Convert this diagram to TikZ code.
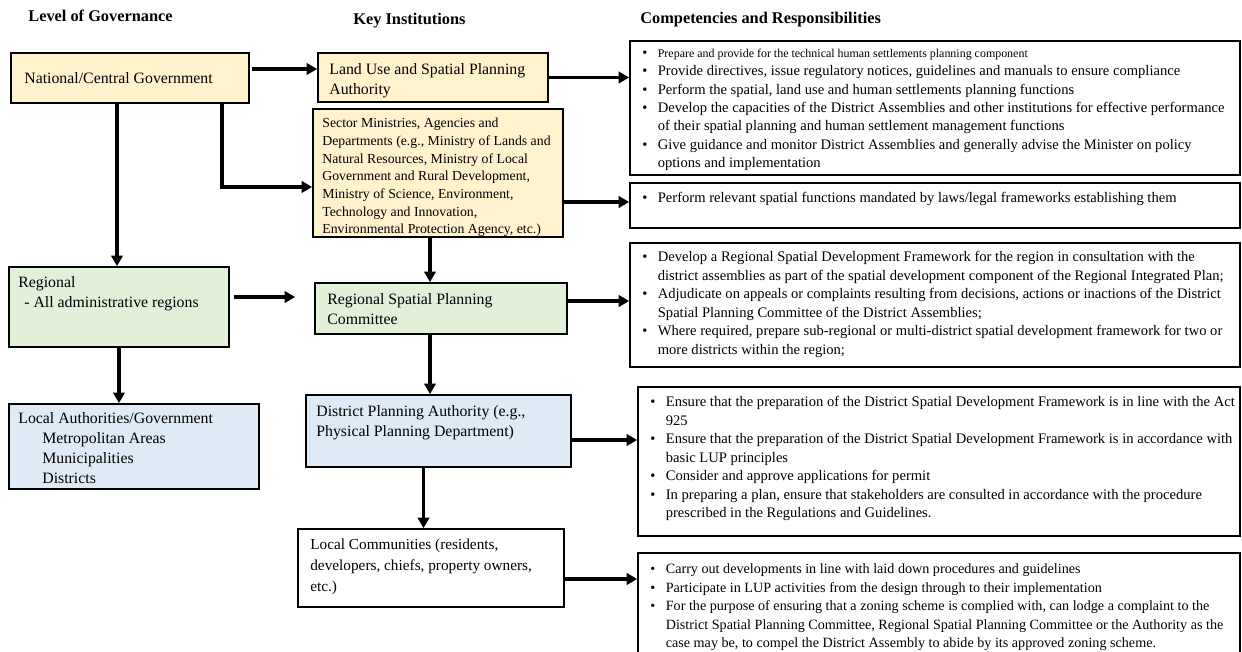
\documentclass[tikz,border=0pt]{standalone}
\usepackage{fontspec}
\setmainfont{Liberation Serif}
\usetikzlibrary{arrows.meta}
\definecolor{natfill}{HTML}{FFF2CC}
\definecolor{regfill}{HTML}{E2EFD9}
\definecolor{locfill}{HTML}{DEEBF7}
\tikzset{
  govbox/.style={
    draw,
    line width=1pt,
    inner sep=0pt
  },
  boxtext/.style={
    anchor=north west,
    inner sep=0pt,
    align=left,
    font=\fontsize{9}{11.4}\selectfont
  },
  smalltext/.style={
    boxtext,
    font=\fontsize{7.85}{10.1}\selectfont
  },
  resptext/.style={
    boxtext,
    font=\fontsize{8.3}{10.5}\selectfont
  },
  header/.style={
    anchor=base west,
    inner sep=0pt,
    font=\bfseries\fontsize{9.3}{11}\selectfont
  },
  flow/.style={
    line width=1.9pt,
    -{Triangle[length=6pt,width=6.5pt]}
  }
}
\newcommand{\bul}{\makebox[0.31cm][l]{\textbullet}}
\newcommand{\ind}{\hspace*{0.31cm}}

\begin{document}
\begin{tikzpicture}[x=0.02cm,y=-0.02cm]
  \useasboundingbox (0,0) rectangle (1242,652);
  % column headings
  \node[header] (levelhead) at (28,21.4) {Level of Governance};
  \node[header] (insthead) at (353,24.4) {Key Institutions};
  \node[header] (comphead) at (640,23.4) {Competencies and Responsibilities};

  % level of governance
  \node[govbox, fill=natfill, minimum width=4.76cm, minimum height=1cm] (nat) at (130,78) {};
  \node[govbox, fill=regfill, minimum width=4.4cm, minimum height=1.6cm] (reg) at (119,307) {};
  \node[govbox, fill=locfill, minimum width=5cm, minimum height=1.7cm] (local) at (134,446.5) {};
  \node[boxtext] (nattext) at (24,71.8) {National/Central Government};
  \node[boxtext] (regtext) at (18,275.8) {Regional\\\hspace*{0.12cm}- All administrative regions};
  \node[boxtext] (localtext) at (18,411.8) {Local Authorities/Government\\
    \hspace*{0.48cm}Metropolitan Areas\\\hspace*{0.48cm}Municipalities\\\hspace*{0.48cm}Districts};

  % key institutions
  \node[govbox, fill=natfill, minimum width=4.6cm, minimum height=0.98cm] (luspa) at (433,77.5) {};
  \node[govbox, fill=natfill, minimum width=5cm, minimum height=2.56cm] (sector) at (438,173) {};
  \node[govbox, fill=regfill, minimum width=5.04cm, minimum height=1.02cm] (rspc) at (441,308.5) {};
  \node[govbox, fill=locfill, minimum width=5.3cm, minimum height=1.44cm] (dpa) at (438.5,431) {};
  \node[govbox, fill=white, minimum width=5.32cm, minimum height=1.56cm] (lc) at (431,568) {};
  \node[boxtext] (luspatext) at (329,62.8) {Land Use and Spatial Planning\\Authority};
  \node[smalltext] (sectortext) at (322,117.6) {Sector Ministries, Agencies and\\
    Departments (e.g., Ministry of Lands and\\Natural Resources, Ministry of Local\\
    Government and Rural Development,\\Ministry of Science, Environment,\\
    Technology and Innovation,\\Environmental Protection Agency, etc.)};
  \node[boxtext] (rspctext) at (327,292.8) {Regional Spatial Planning\\Committee};
  \node[boxtext] (dpatext) at (316,404.8) {District Planning Authority (e.g.,\\Physical Planning Department)};
  \node[boxtext, font=\fontsize{8.7}{11.9}\selectfont] (lctext) at (310,539)
    {Local Communities (residents,\\developers, chiefs, property owners,\\etc.)};

  % competencies and responsibilities
  \node[govbox, minimum width=12.2cm, minimum height=2.68cm] (resp1) at (935,108) {};
  \node[govbox, minimum width=12.2cm, minimum height=0.9cm] (resp2) at (935,205.5) {};
  \node[govbox, minimum width=12.2cm, minimum height=2.48cm] (resp3) at (935,305) {};
  \node[govbox, minimum width=12.04cm, minimum height=2.98cm] (resp4) at (939,461.5) {};
  \node[govbox, minimum width=12.04cm, minimum height=2.36cm] (resp5) at (939,612) {};
  \node[resptext] (resp1text) at (642,48.4) {%
    \bul{\fontsize{6.8}{8}\selectfont Prepare and provide for the technical human settlements planning component}\\
    \bul Provide directives, issue regulatory notices, guidelines and manuals to ensure compliance\\
    \bul Perform the spatial, land use and human settlements planning functions\\
    \bul Develop the capacities of the District Assemblies and other institutions for effective performance\\
    \ind of their spatial planning and human settlement management functions\\
    \bul Give guidance and monitor District Assemblies and generally advise the Minister on policy\\
    \ind options and implementation};
  \node[resptext] (resp2text) at (642,192.3) {%
    \bul Perform relevant spatial functions mandated by laws/legal frameworks establishing them};
  \node[resptext] (resp3text) at (642,251.3) {%
    \bul Develop a Regional Spatial Development Framework for the region in consultation with the\\
    \ind district assemblies as part of the spatial development component of the Regional Integrated Plan;\\
    \bul Adjudicate on appeals or complaints resulting from decisions, actions or inactions of the District\\
    \ind Spatial Planning Committee of the District Assemblies;\\
    \bul Where required, prepare sub-regional or multi-district spatial development framework for two or\\
    \ind more districts within the region;};
  \node[resptext] (resp4text) at (650,396.3) {%
    \bul Ensure that the preparation of the District Spatial Development Framework is in line with the Act\\
    \ind 925\\
    \bul Ensure that the preparation of the District Spatial Development Framework is in accordance with\\
    \ind basic LUP principles\\
    \bul Consider and approve applications for permit\\
    \bul In preparing a plan, ensure that stakeholders are consulted in accordance with the procedure\\
    \ind prescribed in the Regulations and Guidelines.};
  \node[resptext, font=\fontsize{8.05}{10.5}\selectfont] (resp5text) at (650,563.6) {%
    \bul Carry out developments in line with laid down procedures and guidelines\\
    \bul Participate in LUP activities from the design through to their implementation\\
    \bul For the purpose of ensuring that a zoning scheme is complied with, can lodge a complaint to the\\
    \ind District Spatial Planning Committee, Regional Spatial Planning Committee or the Authority as the\\
    \ind case may be, to compel the District Assembly to abide by its approved zoning scheme.};

  % arrows
  \coordinate (natright) at ([yshift=0.18cm]nat.east);
  \draw[flow, shorten <=0.04cm] (natright) -- (natright -| luspa.west);
  \draw[flow] (luspa.east) -- (luspa.east -| resp1.west);
  \coordinate (natmid) at ([xshift=1.84cm]nat.south);
  \draw[flow] (natmid) |- ([yshift=-0.28cm]sector.west);
  \coordinate (secright) at ([yshift=-0.58cm]sector.east);
  \draw[flow] (secright) -- (secright -| resp2.west);
  \coordinate (natleft) at ([xshift=-0.26cm]nat.south);
  \draw[flow] (natleft) -- (natleft |- reg.north);
  \coordinate (secdown) at ([xshift=-0.16cm]sector.south);
  \draw[flow] (secdown) -- (secdown |- rspc.north);
  \coordinate (regright) at ([yshift=0.2cm]reg.east);
  \draw[flow, shorten <=0.08cm, shorten >=0.38cm] (regright) -- (regright -| rspc.west);
  \coordinate (rspcright) at ([yshift=0.15cm]rspc.east);
  \draw[flow] (rspcright) -- (rspcright -| resp3.west);
  \coordinate (rspcdown) at ([xshift=-0.22cm]rspc.south);
  \draw[flow] (rspcdown) -- (rspcdown |- dpa.north);
  \draw[flow] (reg.south) -- (reg.south |- local.north);
  \coordinate (dparight) at ([yshift=-0.18cm]dpa.east);
  \draw[flow] (dparight) -- (dparight -| resp4.west);
  \coordinate (dpadown) at ([xshift=-0.3cm]dpa.south);
  \draw[flow] (dpadown) -- (dpadown |- lc.north);
  \coordinate (lcright) at ([yshift=-0.22cm]lc.east);
  \draw[flow] (lcright) -- (lcright -| resp5.west);
\end{tikzpicture}
\end{document}
